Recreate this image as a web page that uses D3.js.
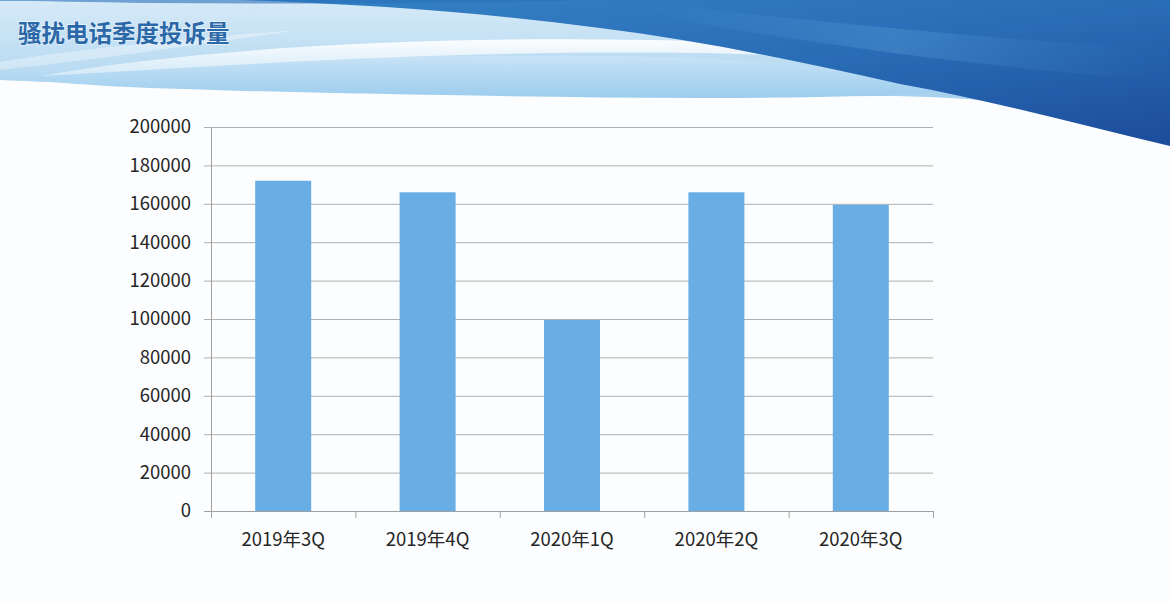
<!DOCTYPE html>
<html><head><meta charset="utf-8">
<script src="https://cdn.jsdelivr.net/npm/d3@7"></script>
<style>html,body{margin:0;padding:0;background:#fcfdfe;overflow:hidden}</style>
</head><body>
<svg id="c" width="1170" height="604"></svg>
<script>
const categories = ["2019年3Q","2019年4Q","2020年1Q","2020年2Q","2020年3Q"];
const values = [172000, 166000, 99500, 166000, 159500];
const yTicks = [0,20000,40000,60000,80000,100000,120000,140000,160000,180000,200000];
const title = "骚扰电话季度投诉量";

const svg = d3.select("#c");
const defs = svg.append("defs");
function lg(id, stops, x1=0,y1=0,x2=0,y2=1){
  const g = defs.append("linearGradient").attr("id",id).attr("x1",x1).attr("y1",y1).attr("x2",x2).attr("y2",y2);
  stops.forEach(s=>g.append("stop").attr("offset",s[0]).attr("stop-color",s[1]).attr("stop-opacity",s[2]==null?1:s[2]));
}
lg("lb",[[0,"#d6eaf8"],[0.6,"#b8daf1"],[1,"#95c7ea"]]);
lg("hl",[[0,"#ffffff",0.95],[1,"#e6f3fb",0.6]]);
lg("band",[[0,"#c8e3f6"],[1,"#9ccdee"]]);
lg("dk",[[0,"#3583c6"],[0.5,"#2a6db7"],[1,"#1c4c9c"]],0,0,1,1);
lg("mid",[[0,"#4c95d2",0.0],[0.5,"#5aa0d8",0.35],[1,"#3b84c6",0.0]],0,0,1,0);

svg.append("rect").attr("width",1170).attr("height",604).attr("fill","#fcfdfe");
svg.append("path").attr("d","M0,0 H1170 V120 C1050,105 960,96 880,96 C650,98 400,92 200,86 C120,84 50,82 0,80 Z").attr("fill","url(#lb)");
svg.append("path").attr("d","M0,72 C150,62 350,55 600,56 C750,57 880,70 960,90 C900,96 800,98 700,98 C500,97 300,93 150,88 C90,86 40,80 0,80 Z").attr("fill","url(#band)");
svg.append("path").attr("d","M40,76 C200,48 420,36 650,40 C760,42 830,50 870,60 C760,52 600,50 430,56 C280,61 150,70 40,76 Z").attr("fill","url(#hl)");
svg.append("path").attr("d","M0,62 C60,52 160,40 300,30 C200,44 110,58 0,70 Z").attr("fill","#ffffff").attr("opacity",0.35);
svg.append("path").attr("d","M240,0 H1170 V146 C1080,125 990,100 900,84 C800,62 700,40 600,28 C480,12 360,4 240,0 Z").attr("fill","url(#dk)");
svg.append("path").attr("d","M620,0 C800,20 1000,40 1170,50 V80 C1000,70 820,45 680,20 C660,12 640,5 620,0 Z").attr("fill","url(#mid)");
svg.append("path").attr("d","M0,0 H600 C450,4 300,4 150,3 C90,2 40,1 0,1 Z").attr("fill","#2a6fb9").attr("opacity",0.6);

svg.append("text").attr("x",18).attr("y",42).text(title)
  .attr("font-family","'Noto Sans CJK SC'").attr("font-weight","bold").attr("font-size",23.5)
  .attr("fill","#2b68a8").attr("stroke","#ffffff").attr("stroke-width",1.4).attr("stroke-opacity",0.6).attr("paint-order","stroke");

const pL=211, pR=933, pT=127, pB=511;
const y = d3.scaleLinear().domain([0,200000]).range([pB,pT]);
const x = d3.scaleBand().domain(categories).range([pL,pR]).padding(0);
const bw = 56;

const g = svg.append("g");
g.selectAll("line.grid").data(yTicks).join("line")
  .attr("x1",pL-7).attr("x2",pR).attr("y1",d=>y(d)+0.5).attr("y2",d=>y(d)+0.5)
  .attr("stroke",d=>d===0?"#a0a0a0":"#b0b0b0").attr("stroke-width",1);
g.append("line").attr("x1",pL+0.5).attr("x2",pL+0.5).attr("y1",pT).attr("y2",pB)
  .attr("stroke","#a0a0a0");
const bounds = categories.map(c=>x(c)).concat([pR]);
g.selectAll("line.xt").data(bounds).join("line")
  .attr("x1",d=>d+0.5).attr("x2",d=>d+0.5).attr("y1",pB).attr("y2",pB+7)
  .attr("stroke","#a0a0a0");

g.selectAll("rect.bar").data(values).join("rect")
  .attr("x",(d,i)=>x(categories[i])+(x.bandwidth()-bw)/2)
  .attr("width",bw)
  .attr("y",d=>y(d)).attr("height",d=>y(0)-y(d))
  .attr("fill","#68aee5");

g.selectAll("text.yl").data(yTicks).join("text")
  .attr("x",191).attr("y",d=>y(d)).attr("dy","0.35em").attr("text-anchor","end")
  .attr("font-family","'Noto Sans CJK SC'").attr("font-size",18.5).attr("fill","#262626")
  .text(d=>d);
g.selectAll("text.xl").data(categories).join("text")
  .attr("x",d=>x(d)+x.bandwidth()/2).attr("y",540).attr("dy","0.35em").attr("text-anchor","middle")
  .attr("font-family","'Noto Sans CJK SC'").attr("font-size",18.5).attr("fill","#262626")
  .text(d=>d);
</script>
</body></html>
